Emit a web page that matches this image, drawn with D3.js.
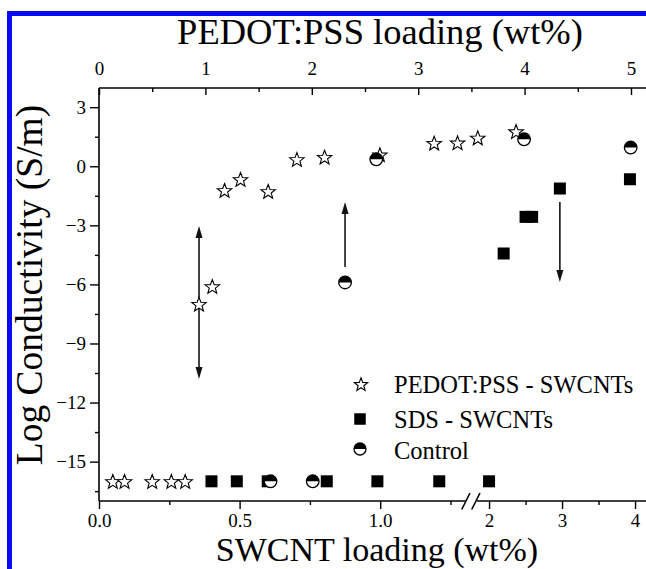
<!DOCTYPE html>
<html><head><meta charset="utf-8">
<script src="https://cdn.jsdelivr.net/npm/d3@7"></script>
<style>
body{margin:0;background:#fff}
svg{display:block}
text{font-family:"Liberation Serif","Tinos","Times New Roman","DejaVu Serif",serif;fill:#000}
</style>
</head><body><svg id="c" width="646" height="569"></svg>
<script>
// ---- data ----
// PEDOT:PSS - SWCNTs composites, x = PEDOT:PSS loading (wt%, top axis)
const starX = [0.13, 0.24, 0.50, 0.68, 0.81, 0.94, 1.065, 1.18, 1.33, 1.59, 1.86, 2.12, 2.64, 3.15, 3.37, 3.56, 3.92];
const starY = [-16, -16, -16, -16, -16, -7.0, -6.1, -1.22, -0.66, -1.27, 0.35, 0.47, 0.59, 1.18, 1.2, 1.45, 1.77];
// SDS - SWCNTs, x = SWCNT loading (wt%, bottom axis)
const sdsX = [0.40, 0.49, 0.60, 0.81, 0.99, 1.21, 2.0, 2.2, 2.5, 2.59, 2.97, 3.93];
const sdsY = [-16, -16, -16, -16, -16, -16, -16, -4.43, -2.57, -2.57, -1.13, -0.66];
// Control, x = SWCNT loading (wt%, bottom axis)
const ctrlX = [0.61, 0.76, 0.875, 0.986, 2.48, 3.94];
const ctrlY = [-16, -16, -5.9, 0.35, 1.37, 0.95];
// arrows
const arrowAxis = ["top", "bottom", "bottom"];
const arrowX = [0.94, 0.875, 2.97];
const arrowFrom = [-7.0, -5.11, -1.81];
const arrowTo = [-3.03, -1.81, -5.88];
const arrowDouble = [true, false, false];
const arrowTo2 = [-10.8, null, null];
// ticks
const yMajor = [-15, -12, -9, -6, -3, 0, 3];
const yMinor = [-16.5, -13.5, -10.5, -7.5, -4.5, -1.5, 1.5];
const topMajor = [0, 1, 2, 3, 4, 5];
const topMinor = [0.5, 1.5, 2.5, 3.5, 4.5];
const botMajor = [0, 0.5, 1.0, 2, 3, 4];
const botMajorLabels = ["0.0", "0.5", "1.0", "2", "3", "4"];
const botMinor = [0.25, 0.75, 1.25, 2.5, 3.5];
const legendLabels = ["PEDOT:PSS - SWCNTs", "SDS - SWCNTs", "Control"];
const titleTop = "PEDOT:PSS loading (wt%)";
const titleBottom = "SWCNT loading (wt%)";
const titleY = "Log Conductivity (S/m)";

// ---- layout ----
const L = 99, R = 646, T = 88, B = 501, BRK = 473;
const svg = d3.select("#c");

const y = d3.scaleLinear().domain([-17, 4]).range([B, 87.5]);
const xTop = d3.scaleLinear().domain([0, 5]).range([L, 631]);
const xBot = d3.scaleLinear().domain([0, 1.33, 1.78, 4.15]).range([L, BRK, BRK, R]);

// blue frame
svg.append("rect").attr("x", 7).attr("y", 11).attr("width", 5).attr("height", 569).attr("fill", "#0a0af0");
svg.append("rect").attr("x", 7).attr("y", 11).attr("width", 646).attr("height", 5).attr("fill", "#0a0af0");

const fontTick = 19;
function styleAxis(g) {
  g.select(".domain").remove();
  g.attr("font-family", null);
  g.selectAll(".tick line").attr("stroke", "#000").attr("stroke-width", 1.4);
  g.selectAll(".tick text").attr("font-size", fontTick);
}

// left axis
svg.append("g").attr("transform", `translate(${L},0)`)
  .call(d3.axisLeft(y).tickValues(yMajor).tickSize(9).tickPadding(4).tickFormat(d3.format("d"))).call(styleAxis);
svg.append("g").attr("transform", `translate(${L},0)`)
  .call(d3.axisLeft(y).tickValues(yMinor).tickSize(4).tickFormat("")).call(styleAxis);
svg.append("line").attr("x1", L).attr("x2", L).attr("y1", T).attr("y2", B).attr("stroke", "#000").attr("stroke-width", 1.6);

// top axis (ticks inward)
svg.append("g").attr("transform", `translate(0,${T})`)
  .call(d3.axisTop(xTop).tickValues(topMajor).tickSizeInner(-7).tickSizeOuter(0).tickPadding(13).tickFormat(d3.format("d"))).call(styleAxis);
svg.append("g").attr("transform", `translate(0,${T})`)
  .call(d3.axisTop(xTop).tickValues(topMinor).tickSizeInner(-4).tickSizeOuter(0).tickFormat("")).call(styleAxis);
svg.append("line").attr("x1", L).attr("x2", R).attr("y1", T).attr("y2", T).attr("stroke", "#000").attr("stroke-width", 1.6);

// bottom axis (broken)
svg.append("g").attr("transform", `translate(0,${B})`)
  .call(d3.axisBottom(xBot).tickValues(botMajor).tickSize(8).tickPadding(5).tickFormat((d, i) => botMajorLabels[i])).call(styleAxis);
svg.append("g").attr("transform", `translate(0,${B})`)
  .call(d3.axisBottom(xBot).tickValues(botMinor).tickSize(4).tickFormat("")).call(styleAxis);
svg.append("line").attr("x1", L).attr("x2", 466).attr("y1", B).attr("y2", B).attr("stroke", "#000").attr("stroke-width", 1.6);
svg.append("line").attr("x1", 477).attr("x2", R).attr("y1", B).attr("y2", B).attr("stroke", "#000").attr("stroke-width", 1.6);
[[461.7, 470], [471.7, 480]].forEach(([a, b]) => {
  svg.append("line").attr("x1", a).attr("y1", B + 8.5).attr("x2", b).attr("y2", B - 8).attr("stroke", "#000").attr("stroke-width", 1.6);
});

// titles
svg.append("text").attr("x", 380).attr("y", 44).attr("text-anchor", "middle").attr("font-size", 36.5).text(titleTop);
svg.append("text").attr("x", 377).attr("y", 561).attr("text-anchor", "middle").attr("font-size", 34).text(titleBottom);
svg.append("text").attr("transform", "translate(42,285) rotate(-90)").attr("text-anchor", "middle").attr("font-size", 37.5).text(titleY);

// symbol helpers
function starPath(R0) {
  const r = R0 * 0.42, pts = [];
  for (let i = 0; i < 10; i++) {
    const a = -Math.PI / 2 + i * Math.PI / 5, rr = i % 2 ? r : R0;
    pts.push([rr * Math.cos(a), rr * Math.sin(a)]);
  }
  return "M" + pts.map(p => p[0].toFixed(2) + "," + p[1].toFixed(2)).join("L") + "Z";
}
function drawStar(g, cx, cy, R0) {
  g.append("path").attr("d", starPath(R0)).attr("transform", `translate(${cx},${cy + 0.8})`)
    .attr("fill", "#fff").attr("stroke", "#000").attr("stroke-width", 1.1).attr("stroke-linejoin", "miter");
}
function drawSquare(g, cx, cy, s) {
  g.append("rect").attr("x", cx - s / 2).attr("y", cy - s / 2).attr("width", s).attr("height", s).attr("fill", "#000");
}
function drawCtrl(g, cx, cy, r) {
  const gg = g.append("g").attr("transform", `translate(${cx},${cy})`);
  gg.append("circle").attr("r", r).attr("fill", "#fff");
  gg.append("path").attr("d", `M${-r},0A${r},${r} 0 0 1 ${r},0Z`).attr("fill", "#000");
  gg.append("circle").attr("r", r).attr("fill", "none").attr("stroke", "#000").attr("stroke-width", 1.3);
}
function arrowHead(g, x, yTip, dir) { // dir -1 = up, +1 = down
  const len = 12, hw = 3.5;
  g.append("path").attr("d", `M${x},${yTip}L${x - hw},${yTip - dir * len}L${x + hw},${yTip - dir * len}Z`).attr("fill", "#111");
}

// arrows (under markers)
const ga = svg.append("g");
arrowX.forEach((v, i) => {
  const x = (arrowAxis[i] === "top" ? xTop : xBot)(v);
  const segs = arrowDouble[i] ? [[arrowFrom[i], arrowTo[i]], [arrowFrom[i], arrowTo2[i]]] : [[arrowFrom[i], arrowTo[i]]];
  segs.forEach(([f, t]) => {
    const y0 = y(f), y1 = y(t), dir = y1 > y0 ? 1 : -1;
    ga.append("line").attr("x1", x).attr("x2", x).attr("y1", y0).attr("y2", y1 - dir * 8).attr("stroke", "#222").attr("stroke-width", 1.7);
    arrowHead(ga, x, y1, dir);
  });
});

// markers
const gm = svg.append("g");
sdsX.forEach((v, i) => drawSquare(gm, xBot(v), y(sdsY[i]), 12));
starX.forEach((v, i) => drawStar(gm, xTop(v), y(starY[i]), 7.6));
ctrlX.forEach((v, i) => drawCtrl(gm, xBot(v), y(ctrlY[i]), 6.3));

// legend
const gl = svg.append("g");
const legY = [384, 419, 449];
drawStar(gl, 361, legY[0], 7);
drawSquare(gl, 360, legY[1], 11.5);
drawCtrl(gl, 360, legY[2], 6);
legendLabels.forEach((t, i) => {
  gl.append("text").attr("x", 394).attr("y", [393, 428, 459][i]).attr("font-size", 24.5).text(t);
});
</script>
</body></html>
